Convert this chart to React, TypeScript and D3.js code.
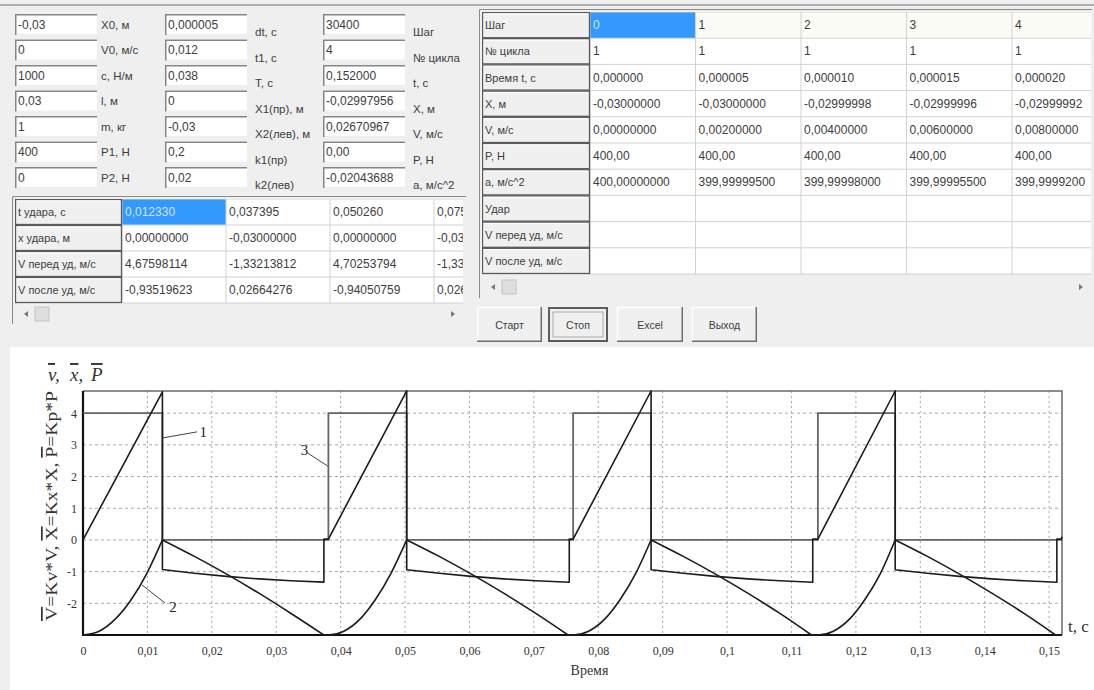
import { useEffect, useRef } from "react";
import * as d3 from "d3";

const W = 1094;
const H = 690;

// ---- input form (left top) ----
const colAValues = ["-0,03", "0", "1000", "0,03", "1", "400", "0"];
const colALabels = ["X0, м", "V0, м/с", "c, Н/м", "l, м", "m, кг", "P1, Н", "P2, Н"];
const colBValues = ["0,000005", "0,012", "0,038", "0", "-0,03", "0,2", "0,02"];
const colCLabels = ["dt, c", "t1, c", "T, c", "X1(пр), м", "X2(лев), м", "k1(пр)", "k2(лев)"];
const colDValues = ["30400", "4", "0,152000", "-0,02997956", "0,02670967", "0,00", "-0,02043688"];
const colELabels = ["Шаг", "№ цикла", "t, c", "X, м", "V, м/с", "P, Н", "a, м/с^2"];

// ---- step table (right top) ----
const stepLabels = ["Шаг", "№ цикла", "Время t, c", "X, м", "V, м/с", "P, Н", "a, м/с^2", "Удар", "V перед уд, м/с", "V после уд, м/с"];
const stepNo = ["0", "1", "2", "3", "4"];
const stepCycle = ["1", "1", "1", "1", "1"];
const stepTime = ["0,000000", "0,000005", "0,000010", "0,000015", "0,000020"];
const stepX = ["-0,03000000", "-0,03000000", "-0,02999998", "-0,02999996", "-0,02999992"];
const stepV = ["0,00000000", "0,00200000", "0,00400000", "0,00600000", "0,00800000"];
const stepP = ["400,00", "400,00", "400,00", "400,00", "400,00"];
const stepA = ["400,00000000", "399,99999500", "399,99998000", "399,99995500", "399,9999200"];
const stepEmpty = ["", "", "", "", ""];

// ---- impact table (left middle) ----
const impactLabels = ["t удара, с", "х удара, м", "V перед уд, м/с", "V после уд, м/с"];
const impactT = ["0,012330", "0,037395", "0,050260", "0,075500"];
const impactX = ["0,00000000", "-0,03000000", "0,00000000", "-0,03000000"];
const impactVBefore = ["4,67598114", "-1,33213812", "4,70253794", "-1,33400000"];
const impactVAfter = ["-0,93519623", "0,02664276", "-0,94050759", "0,02668000"];

const buttons = ["Старт", "Стоп", "Excel", "Выход"];

// ---- chart ----
const xDomain = [0, 0.152];
const yDomain = [-3, 4.7];
const xTicks = [0, 0.01, 0.02, 0.03, 0.04, 0.05, 0.06, 0.07, 0.08, 0.09, 0.1, 0.11, 0.12, 0.13, 0.14, 0.15];
const yTicks = [-2, -1, 0, 1, 2, 3, 4];

// 1 - velocity, Kv*V
const velocityPts: [number, number][] = [
  [0, 0], [0.01233, 4.676], [0.01233, -0.935], [0.0173, -1.05], [0.0223, -1.15], [0.0273, -1.23], [0.0323, -1.29], [0.0374, -1.332],
  [0.0374, 0.027], [0.0381, 0.027], [0.05026, 4.703], [0.05026, -0.941], [0.0553, -1.05], [0.0603, -1.15], [0.0653, -1.23], [0.0703, -1.29], [0.0755, -1.335],
  [0.0755, 0.027], [0.0761, 0.027], [0.0882, 4.7], [0.0882, -0.94], [0.0932, -1.05], [0.0982, -1.15], [0.1032, -1.23], [0.1082, -1.29], [0.1133, -1.335],
  [0.1133, 0.027], [0.1141, 0.027], [0.1261, 4.7], [0.1261, -0.94], [0.1311, -1.05], [0.1361, -1.15], [0.1411, -1.23], [0.1461, -1.29], [0.1512, -1.335],
  [0.1512, 0.027], [0.1519, 0.027], [0.152, 0.1],
];

// 2 - displacement, Kx*X
const positionPts: [number, number][] = [
  [0, -3], [0.0025, -2.88], [0.005, -2.5], [0.0075, -1.88], [0.0099, -1.06], [0.01233, 0],
  [0.0173, -0.52], [0.0223, -1.08], [0.0273, -1.68], [0.0323, -2.32], [0.0374, -3], [0.0381, -3],
  [0.0405, -2.88], [0.043, -2.5], [0.0454, -1.88], [0.0478, -1.06], [0.05026, 0],
  [0.0553, -0.52], [0.0603, -1.08], [0.0653, -1.68], [0.0703, -2.32], [0.0753, -3], [0.0761, -3],
  [0.0785, -2.88], [0.081, -2.5], [0.0834, -1.88], [0.0858, -1.06], [0.0882, 0],
  [0.0932, -0.52], [0.0982, -1.08], [0.1032, -1.68], [0.1082, -2.32], [0.1131, -3], [0.1141, -3],
  [0.1165, -2.88], [0.119, -2.5], [0.1214, -1.88], [0.1238, -1.06], [0.1261, 0],
  [0.1311, -0.52], [0.1361, -1.08], [0.1411, -1.68], [0.1461, -2.32], [0.151, -3], [0.152, -3],
];

// 3 - force, Kp*P
const forcePts: [number, number][] = [
  [0, 4], [0.01233, 4], [0.01233, 0], [0.0381, 0], [0.0381, 4], [0.05026, 4], [0.05026, 0],
  [0.0761, 0], [0.0761, 4], [0.0882, 4], [0.0882, 0], [0.1141, 0], [0.1141, 4], [0.1261, 4], [0.1261, 0], [0.152, 0],
];

const callouts = [
  { label: "1", from: [0.01242, 3.22], to: [0.0177, 3.41], at: [0.0181, 3.41] },
  { label: "2", from: [0.00916, -1.42], to: [0.01273, -1.99], at: [0.0134, -2.12] },
  { label: "3", from: [0.038, 2.33], to: [0.0349, 2.74], at: [0.0338, 2.84] },
];

const UI_FONT = "'Liberation Sans', Arial, sans-serif";
const SERIF = "'Liberation Serif', 'Times New Roman', serif";
const TXT = "#3d3d3d";

// split a series wherever its direction turns, so each branch can be smoothed on its own
const branches = (pts: [number, number][]) => {
  const out: [number, number][][] = [];
  let cur: [number, number][] = [pts[0]];
  let dir = 0;
  for (let i = 1; i < pts.length; i++) {
    const d = Math.sign(pts[i][1] - pts[i - 1][1]);
    if (dir !== 0 && d !== dir) {
      out.push(cur);
      cur = [pts[i - 1]];
    }
    dir = d;
    cur.push(pts[i]);
  }
  out.push(cur);
  return out;
};

const Edit = ({ x, y, w, h, text }: { x: number; y: number; w: number; h: number; text: string }) => (
  <g>
    <rect x={x} y={y} width={w} height={h} fill="#fff" />
    <path d={`M${x + w},${y + h - 0.5} H${x + 0.5} V${y}`} fill="none" stroke="#ececec" />
    <path d={`M${x + 0.75},${y + h} V${y + 0.75} H${x + w}`} fill="none" stroke="#858585" strokeWidth={1.5} />
    <text x={x + 3} y={y + h / 2 + 4} fontSize={12} fill={TXT}>{text}</text>
  </g>
);

type GridProps = {
  id: string;
  x: number;
  y: number;
  fixedW: number;
  colW: number;
  rowH: number;
  width: number;
  labels: string[];
  rows: string[][];
  selected: [number, number];
  firstRowTint?: boolean;
};

const Grid = ({ id, x, y, fixedW, colW, rowH, width, labels, rows, selected, firstRowTint }: GridProps) => {
  const nCols = rows[0].length;
  const h = labels.length * rowH;
  return (
    <g>
      <defs>
        <clipPath id={id}>
          <rect x={x} y={y} width={width} height={h + 1} />
        </clipPath>
        <clipPath id={`${id}-fixed`}>
          <rect x={x} y={y} width={fixedW - 1.5} height={h + 1} />
        </clipPath>
      </defs>
      <g clipPath={`url(#${id})`}>
        <rect x={x + fixedW} y={y} width={width - fixedW} height={h} fill="#fff" />
        {firstRowTint && <rect x={x + fixedW} y={y} width={width - fixedW} height={rowH} fill="#fcfcf6" />}
        <rect
          x={x + fixedW + selected[1] * colW}
          y={y + selected[0] * rowH}
          width={colW}
          height={rowH}
          fill="#3399ff"
        />
        {d3.range(nCols + 1).map((c) => (
          <line key={`c${c}`} x1={x + fixedW + c * colW} x2={x + fixedW + c * colW} y1={y} y2={y + h} stroke="#d2d2d2" />
        ))}
        {d3.range(labels.length + 1).map((r) => (
          <line key={`r${r}`} x1={x + fixedW} x2={x + width} y1={y + r * rowH} y2={y + r * rowH} stroke="#d2d2d2" />
        ))}
        {rows.map((row, r) =>
          row.map((cell, c) =>
            cell ? (
              <text
                key={`${r}-${c}`}
                x={x + fixedW + c * colW + 3}
                y={y + r * rowH + rowH / 2 + 4}
                fontSize={12}
                fill={r === selected[0] && c === selected[1] ? "#cfe6ff" : TXT}
              >
                {cell}
              </text>
            ) : null
          )
        )}
        {labels.map((lab, r) => (
          <g key={lab}>
            <rect x={x + 0.5} y={y + r * rowH + 0.5} width={fixedW - 1} height={rowH - 1} fill="#f0f0f0" stroke="#5a5a5a" strokeWidth={1.3} />
            <line x1={x + 2} x2={x + fixedW - 2} y1={y + r * rowH + 2} y2={y + r * rowH + 2} stroke="#fff" />
          </g>
        ))}
        <g clipPath={`url(#${id}-fixed)`}>
          {labels.map((lab, r) => (
            <text key={lab} x={x + 3} y={y + r * rowH + rowH / 2 + 4} fontSize={11} fill={TXT}>{lab}</text>
          ))}
        </g>
      </g>
    </g>
  );
};

const ScrollBar = ({ x, y, w }: { x: number; y: number; w: number }) => (
  <g>
    <rect x={x} y={y} width={w} height={19} fill="#efefef" />
    <path d={`M${x + 9},${y + 10} l4,-3 v6 z`} fill="#777" />
    <rect x={x + 20} y={y + 3} width={14} height={14} fill="#dedede" stroke="#c4c4c4" />
    <path d={`M${x + w - 8},${y + 10} l-4,-3 v6 z`} fill="#777" />
  </g>
);

const Button = ({ x, y, w, h, text, def }: { x: number; y: number; w: number; h: number; text: string; def?: boolean }) => (
  <g>
    <rect x={x} y={y} width={w} height={h} fill="#f0f0f0" />
    <path d={`M${x + 0.5},${y + h} V${y + 0.5} H${x + w}`} fill="none" stroke="#fff" strokeWidth={1.5} />
    <path d={`M${x + w - 0.75},${y} V${y + h - 0.75} H${x}`} fill="none" stroke="#6e6e6e" strokeWidth={1.5} />
    {def && <rect x={x + 1} y={y + 1} width={w - 2} height={h - 2} fill="none" stroke="#5c5c5c" strokeWidth={2} />}
    {def && <rect x={x + 5} y={y + 5} width={w - 10} height={h - 10} fill="none" stroke="#9a9a9a" strokeWidth={0.8} />}
    <text x={x + w / 2} y={y + h / 2 + 4} textAnchor="middle" fontSize={10.5} fill={TXT}>{text}</text>
  </g>
);

const Chart = () => {
  const ref = useRef<SVGGElement>(null);

  useEffect(() => {
    if (!ref.current) return;
    const g = d3.select(ref.current);
    g.selectAll("*").remove();

    const left = 83, right = 1062, top = 391, bottom = 635;
    const x = d3.scaleLinear().domain(xDomain).range([left, right]);
    const y = d3.scaleLinear().domain(yDomain).range([bottom, top]);
    const ru = d3.formatLocale({ decimal: ",", thousands: " ", grouping: [3], currency: ["", ""] });
    const fmt = ru.format(".2~f");

    // grid
    g.selectAll(".vgrid")
      .data(xTicks.filter((d) => d > 0))
      .join("line")
      .attr("x1", (d) => x(d))
      .attr("x2", (d) => x(d))
      .attr("y1", top)
      .attr("y2", bottom)
      .attr("stroke", "#a8a8a8")
      .attr("stroke-dasharray", "2,3");
    g.selectAll(".hgrid")
      .data(yTicks)
      .join("line")
      .attr("x1", left)
      .attr("x2", right)
      .attr("y1", (d) => y(d))
      .attr("y2", (d) => y(d))
      .attr("stroke", "#a8a8a8")
      .attr("stroke-dasharray", "3,3");

    // axes labels
    const xAxis = g.append("g")
      .attr("transform", `translate(0,${bottom})`)
      .call(d3.axisBottom(x).tickValues(xTicks).tickSize(0).tickPadding(11).tickFormat((d) => fmt(d as number)));
    xAxis.select(".domain").remove();
    xAxis.selectAll("text").attr("font-family", SERIF).attr("font-size", 12).attr("fill", "#333");

    const yAxis = g.append("g")
      .attr("transform", `translate(${left},0)`)
      .call(d3.axisLeft(y).tickValues(yTicks).tickSize(0).tickPadding(6).tickFormat((d) => String(d)));
    yAxis.select(".domain").remove();
    yAxis.selectAll("text").attr("font-family", SERIF).attr("font-size", 12).attr("fill", "#333");

    // frame
    g.append("path")
      .attr("d", `M${left},${top} H${right} V${bottom}`)
      .attr("fill", "none")
      .attr("stroke", "#6a6a6a")
      .attr("stroke-width", 1.5);
    g.append("path")
      .attr("d", `M${left},${top} V${bottom} H${right}`)
      .attr("fill", "none")
      .attr("stroke", "#111")
      .attr("stroke-width", 2.2);

    const straight = d3.line<[number, number]>().x((d) => x(d[0])).y((d) => y(d[1]));
    const smooth = d3.line<[number, number]>().x((d) => x(d[0])).y((d) => y(d[1])).curve(d3.curveMonotoneX);

    g.append("path")
      .attr("d", straight(forcePts))
      .attr("fill", "none")
      .attr("stroke", "#666")
      .attr("stroke-width", 1.8);

    g.selectAll(".pos")
      .data(branches(positionPts))
      .join("path")
      .attr("d", (d) => smooth(d))
      .attr("fill", "none")
      .attr("stroke", "#1c1c1c")
      .attr("stroke-width", 1.6);

    g.append("path")
      .attr("d", straight(velocityPts))
      .attr("fill", "none")
      .attr("stroke", "#1c1c1c")
      .attr("stroke-width", 1.6)
      .attr("stroke-linejoin", "round");

    // callouts
    callouts.forEach((c) => {
      g.append("line")
        .attr("x1", x(c.from[0]))
        .attr("y1", y(c.from[1]))
        .attr("x2", x(c.to[0]))
        .attr("y2", y(c.to[1]))
        .attr("stroke", "#444")
        .attr("stroke-width", 1);
      g.append("text")
        .attr("x", x(c.at[0]))
        .attr("y", y(c.at[1]) + 5)
        .attr("font-family", SERIF)
        .attr("font-size", 15)
        .attr("fill", "#222")
        .text(c.label);
    });

    g.append("text")
      .attr("x", (left + right) / 2 + 17)
      .attr("y", 675)
      .attr("text-anchor", "middle")
      .attr("font-family", SERIF)
      .attr("font-size", 14)
      .attr("fill", "#333")
      .text("Время");

    g.append("text")
      .attr("x", 1068)
      .attr("y", 632)
      .attr("font-family", SERIF)
      .attr("font-size", 17)
      .attr("fill", "#333")
      .text("t, c");
  }, []);

  return <g ref={ref} />;
};

const App = () => {
  const rowTop = (i: number) => 14 + i * 25.5;
  const stepRows = [stepNo, stepCycle, stepTime, stepX, stepV, stepP, stepA, stepEmpty, stepEmpty, stepEmpty];
  const impactRows = [impactT, impactX, impactVBefore, impactVAfter];
  const over = { textDecoration: "overline" };

  return (
    <svg width={W} height={H} style={{ position: "absolute", left: 0, top: 0, fontFamily: UI_FONT }}>
      <rect width={W} height={H} fill="#efefef" />
      <line x1={0} x2={W} y1={5} y2={5} stroke="#9a9a9a" strokeWidth={1.5} />

      {/* parameter inputs */}
      {colAValues.map((v, i) => (
        <Edit key={`a${i}`} x={15} y={rowTop(i)} w={82} h={21} text={v} />
      ))}
      {colALabels.map((l, i) => (
        <text key={`al${i}`} x={101} y={rowTop(i) + 14.5} fontSize={11.5} fill={TXT}>{l}</text>
      ))}
      {colBValues.map((v, i) => (
        <Edit key={`b${i}`} x={165} y={rowTop(i)} w={82} h={21} text={v} />
      ))}
      {colCLabels.map((l, i) => (
        <text key={`cl${i}`} x={255} y={rowTop(i) + 22} fontSize={11.5} fill={TXT}>{l}</text>
      ))}
      {colDValues.map((v, i) => (
        <Edit key={`d${i}`} x={323} y={rowTop(i)} w={82} h={21} text={v} />
      ))}
      {colELabels.map((l, i) => (
        <text key={`el${i}`} x={413} y={rowTop(i) + 22} fontSize={11.5} fill={TXT}>{l}</text>
      ))}

      {/* step table */}
      <rect x={479} y={9} width={613} height={289} fill="#efefef" />
      <path d="M479.5,298 V9.5 H1092" fill="none" stroke="#8a8a8a" />
      <Grid
        id="stepclip"
        x={482}
        y={12}
        fixedW={108}
        colW={105.5}
        rowH={26.2}
        width={609}
        labels={stepLabels}
        rows={stepRows}
        selected={[0, 0]}
        firstRowTint
      />
      <ScrollBar x={482} y={277} w={609} />

      {/* impact table */}
      <path d="M12.5,324 V196.5 H466" fill="none" stroke="#8a8a8a" />
      <Grid
        id="impactclip"
        x={15}
        y={199}
        fixedW={107}
        colW={104}
        rowH={26}
        width={448}
        labels={impactLabels}
        rows={impactRows}
        selected={[0, 0]}
      />
      <ScrollBar x={15} y={304} w={448} />

      {/* buttons */}
      {buttons.map((b, i) => {
        const xs = [477, 548, 617, 692];
        const ws = [65, 60, 66, 65];
        return <Button key={b} x={xs[i]} y={307} w={ws[i]} h={35} text={b} def={i === 1} />;
      })}

      {/* chart panel */}
      <rect x={10} y={347} width={W - 10} height={H - 347} fill="#fff" />
      <g fontFamily={SERIF} fontStyle="italic" fontSize={19} fill="#333">
        <text x={48} y={381}>
          <tspan style={over}>v</tspan>,
        </text>
        <text x={70} y={381}>
          <tspan style={over}>x</tspan>,
        </text>
        <text x={91} y={381}>
          <tspan style={over}>P</tspan>
        </text>
      </g>
      <text
        transform="translate(57,506) rotate(-90)"
        textAnchor="middle"
        fontFamily={SERIF}
        fontSize={17}
        fill="#333"
        textLength={230}
        lengthAdjust="spacingAndGlyphs"
      >
        <tspan style={over}>V</tspan>
        <tspan>=Kv*V, </tspan>
        <tspan style={over}>X</tspan>
        <tspan>=Kx*X, </tspan>
        <tspan style={over}>P</tspan>
        <tspan>=Kp*P</tspan>
      </text>
      <Chart />
    </svg>
  );
};

export default App;
